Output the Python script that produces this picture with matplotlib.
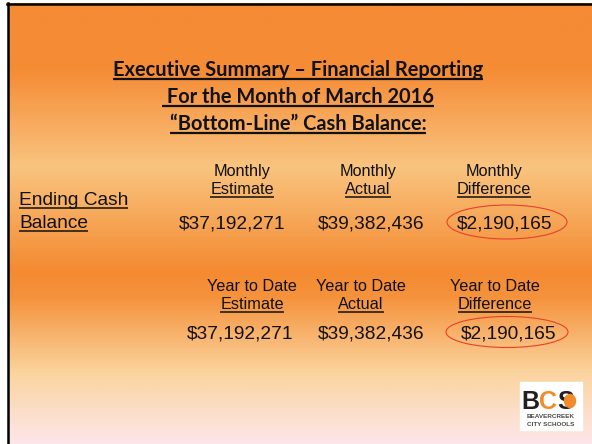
"""
Executive summary slide: bottom-line cash balance for March 2016,
monthly and year-to-date estimate vs actual.
"""

import numpy as np
import matplotlib.pyplot as plt
from matplotlib.colors import LinearSegmentedColormap
from matplotlib.patches import Ellipse, Rectangle


# -----------------------------------------------------------------------------
# 1. SLIDE CONTENT
# -----------------------------------------------------------------------------
title_lines = [
    "Executive Summary \u2013 Financial Reporting",
    " For the Month of March 2016",
    "\u201cBottom-Line\u201d Cash Balance:",
]
row_label = ["Ending Cash", "Balance"]

monthly_heads = ["Monthly", "Monthly", "Monthly"]
monthly_subs = ["Estimate", "Actual", "Difference"]
monthly_values = [37192271, 39382436, 2190165]

ytd_heads = ["Year to Date", "Year to Date", "Year to Date"]
ytd_subs = ["Estimate", "Actual", "Difference"]
ytd_values = [37192271, 39382436, 2190165]

W, H = 592, 444
TEXT = "#111111"
BODY_FONT = ["Liberation Sans", "DejaVu Sans"]
TITLE_FONT = ["Lato", "DejaVu Sans"]


# -----------------------------------------------------------------------------
# 2. HELPERS
# -----------------------------------------------------------------------------
underlines = []


def put(ax, x, y, s, size, ha="center", bold=False, family=BODY_FONT,
        underline=False, gap=3.0, lw=1.1):
    t = ax.text(x, y, s, ha=ha, va="baseline", fontsize=size,
                fontweight="bold" if bold else "normal",
                family=family, color=TEXT)
    if underline:
        underlines.append((t, gap, lw))
    return t


def draw_underlines(fig, ax):
    fig.canvas.draw()
    inv = ax.transData.inverted()
    for t, gap, lw in underlines:
        bb = t.get_window_extent()
        x0, _ = inv.transform((bb.x0, bb.y0))
        x1, _ = inv.transform((bb.x1, bb.y0))
        y = t.get_position()[1] + gap
        ax.plot([x0, x1], [y, y], color=TEXT, lw=lw,
                solid_capstyle="butt")


# -----------------------------------------------------------------------------
# 3. SLIDE
# -----------------------------------------------------------------------------
def main():
    fig = plt.figure(figsize=(W / 100, H / 100), dpi=100)
    fig.patch.set_facecolor("white")
    ax = fig.add_axes([0, 0, 1, 1])

    # background gradient
    stops = [(0.00, "#F58B34"), (0.15, "#F58C36"), (0.37, "#F9C47F"),
             (0.61, "#F48A31"), (0.67, "#F5933D"), (0.84, "#FBD49E"),
             (1.00, "#FDE6EA")]
    cmap = LinearSegmentedColormap.from_list("bg", stops)
    grad = np.linspace(0, 1, 400).reshape(-1, 1)
    ax.imshow(grad, cmap=cmap, extent=(8, W, H, 4), aspect="auto",
              vmin=0, vmax=1, interpolation="bilinear")
    ax.plot([7.5, 7.5], [3.5, H], color="black", lw=1.8)
    ax.plot([6.5, W], [4.2, 4.2], color="black", lw=1.8)

    ax.set_xlim(0, W)
    ax.set_ylim(H, 0)
    ax.axis("off")

    # title
    for s, y in zip(title_lines, [76, 103, 130]):
        put(ax, 298, y, s, 14.4, bold=True, family=TITLE_FONT,
            underline=True, gap=3.5, lw=1.6)

    # monthly block
    put(ax, 19, 205, row_label[0], 13.8, ha="left", underline=True)
    put(ax, 19, 228, row_label[1], 13.8, ha="left", underline=True)
    for xc, head, sub in zip([242, 368, 494], monthly_heads, monthly_subs):
        put(ax, xc, 176, head, 11.7)
        put(ax, xc, 194, sub, 11.7, underline=True, gap=2.8)
    for xc, v in zip([232, 371, 505], monthly_values):
        put(ax, xc, 228, f"${v:,}", 13.8)
    ax.add_patch(Ellipse((507, 222), 120, 34, fill=False,
                         edgecolor="#E8402A", lw=0.8))

    # year to date block
    for xc, head, sub in zip([252, 361, 495], ytd_heads, ytd_subs):
        put(ax, xc, 291, head, 11.7)
        put(ax, xc, 309, sub, 11.7, underline=True, gap=2.8)
    for xc, v in zip([240, 371, 509], ytd_values):
        put(ax, xc, 338, f"${v:,}", 13.8)
    ax.add_patch(Ellipse((507, 332), 122, 31, fill=False,
                         edgecolor="#E8402A", lw=0.8))

    # school logo
    ax.add_patch(Rectangle((520, 382), 62, 48, color="white", zorder=3))
    logo = dict(fontsize=18, fontweight="bold", va="baseline", zorder=4,
                family=BODY_FONT)
    ax.text(521, 409, "B", color="#231F20", **logo)
    ax.text(539, 409, "C", color="#F28B2C", **logo)
    ax.text(557, 409, "S", color="#231F20", **logo)
    ax.add_patch(Ellipse((570, 401), 11, 13, color="#F28B2C", zorder=5))
    small = dict(fontsize=4.6, fontweight="bold", ha="center",
                 va="baseline", zorder=6, color="#4A4A4A", family=BODY_FONT)
    ax.text(551, 418, "BEAVERCREEK", **small)
    ax.text(551, 426, "CITY SCHOOLS", **small)

    draw_underlines(fig, ax)
    fig.savefig("out.png", dpi=100)
    plt.close(fig)


if __name__ == "__main__":
    main()
